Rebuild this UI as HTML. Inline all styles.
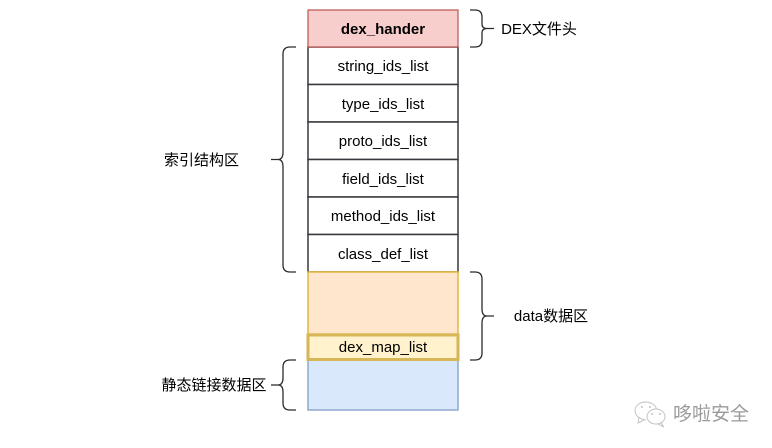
<!DOCTYPE html>
<html>
<head>
<meta charset="utf-8">
<style>
html,body{margin:0;padding:0;background:#fff;}
body{width:772px;height:448px;overflow:hidden;}
svg{display:block;}
text{font-family:"Liberation Sans","Noto Sans CJK SC",sans-serif;font-size:15px;fill:#000;text-anchor:middle;}
</style>
</head>
<body>
<svg width="772" height="448" viewBox="0 0 772 448" xmlns="http://www.w3.org/2000/svg">
<rect width="772" height="448" fill="#fff"/>
<g fill="#fff" stroke="#36393d" stroke-width="1.5">
<rect x="308" y="47" width="150" height="37.5"/>
<rect x="308" y="84.5" width="150" height="37.5"/>
<rect x="308" y="122" width="150" height="37.5"/>
<rect x="308" y="159.5" width="150" height="37.5"/>
<rect x="308" y="197" width="150" height="37.5"/>
<rect x="308" y="234.5" width="150" height="37.5"/>
</g>
<rect x="308" y="10" width="150" height="37" fill="#f8cecc" stroke="#b85450" stroke-width="1.2"/>
<rect x="308" y="272" width="150" height="62" fill="#ffe6cc" stroke="#e3b63e" stroke-width="1.5"/>
<rect x="308" y="360" width="150" height="50" fill="#dae8fc" stroke="#8fa9cf" stroke-width="1.5"/>
<rect x="308" y="335" width="150" height="24.5" fill="#fff2cc" stroke="#d6b656" stroke-width="3"/>
<g fill="none" stroke="#2b2b2b" stroke-width="1.3">
<path d="M470 10 H475 Q482 10 482 17 V24 Q482 28.5 487 28.5 H494 M487 28.5 Q482 28.5 482 33 V40 Q482 47 475 47 H470"/>
<path d="M296 47 H290 Q283 47 283 54 V152 Q283 159.500 278 159.500 H271 M278 159.500 Q283 159.500 283 167 V265 Q283 272 290 272 H296"/>
<path d="M470 272 H475 Q482 272 482 279 V309 Q482 316 487 316 H494 M487 316 Q482 316 482 323 V353 Q482 360 475 360 H470"/>
<path d="M296 360 H290 Q283 360 283 367 V378 Q283 385 278 385 H271 M278 385 Q283 385 283 392 V403 Q283 410 290 410 H296"/>
</g>
<text x="383" y="34" style="font-weight:bold">dex_hander</text>
<text x="383" y="71">string_ids_list</text>
<text x="383" y="109">type_ids_list</text>
<text x="383" y="146">proto_ids_list</text>
<text x="383" y="184">field_ids_list</text>
<text x="383" y="221">method_ids_list</text>
<text x="383" y="259">class_def_list</text>
<text x="383" y="352">dex_map_list</text>
<text x="539" y="34">DEX文件头</text>
<text x="551" y="321">data数据区</text>
<text x="201.500" y="165">索引结构区</text>
<text x="214" y="390">静态链接数据区</text>
<g fill="none" stroke="#c4c4c4" stroke-width="1">
<path d="M646 420 C640 419 635 416 635 410.500 C635 405.500 640 402 645.500 402 C651 402 655.500 405 656.500 409"/>
<path d="M639 417 L638 423 L644 420"/>
<path d="M656 409 C661 409 665 412.500 665 416.500 C665 421 661 424 656 424 C651 424 647 421 647 416.500 C647 412.500 651 409 656 409 Z"/>
<path d="M661 423 L664 427 L658 424"/>
</g>
<g fill="#c4c4c4">
<circle cx="642" cy="407" r="1"/>
<circle cx="650" cy="407" r="1"/>
<circle cx="652" cy="414" r="1"/>
<circle cx="660" cy="414" r="1"/>
</g>
<text x="711" y="420" style="font-size:19px;fill:#9a9a9a">哆啦安全</text>
</svg>
</body>
</html>
